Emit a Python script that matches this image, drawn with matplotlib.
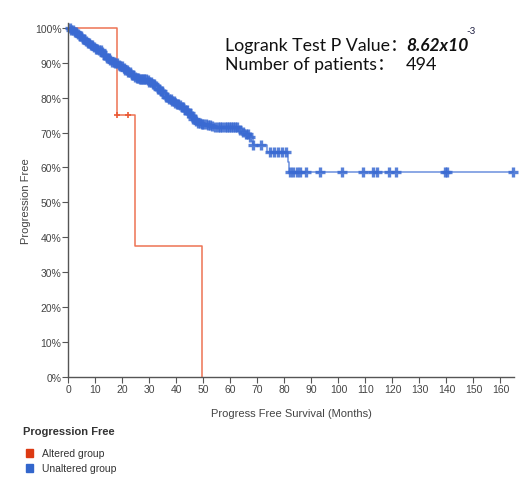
import matplotlib.pyplot as plt
import numpy as np

# Kaplan-Meier steps (months, % progression free)
altered_times = [0, 17.8, 24.8, 49.6]
altered_surv = [100, 75, 37.5, 0]
altered_censor = [17.8, 22.2]

unaltered_times = [0, 1, 2, 3, 4, 5, 6, 7, 8, 9, 10, 11, 12, 13, 14, 15, 16, 17,
                   18, 19, 20, 21, 22, 23, 24, 25, 26, 28, 29, 30, 31, 32, 33, 34,
                   35, 36, 37, 38, 39, 40, 41, 42, 43, 44, 45, 46, 47, 48, 49, 51,
                   53, 54, 63, 64, 65, 67, 68.4, 73.4, 81.2, 81.5]
unaltered_surv = [100, 99.4, 98.8, 98.2, 97.5, 96.8, 96.2, 95.6, 95.0, 94.5, 94.0,
                  93.5, 93.0, 92.2, 91.4, 90.7, 90.2, 89.8, 89.4, 89.0, 88.5, 87.8,
                  87.2, 86.6, 86.0, 85.6, 85.3, 85.2, 85.0, 84.6, 84.0, 83.4, 82.6,
                  81.8, 81.0, 80.3, 79.6, 79.0, 78.5, 78.2, 77.8, 77.2, 76.4, 75.6,
                  74.8, 74.0, 73.3, 72.8, 72.4, 72.2, 71.9, 71.5, 70.8, 70.2, 69.6,
                  68.7, 66.5, 64.3, 61.5, 58.7]
unaltered_end = 164.5
unaltered_censor = [0.4, 1.1, 1.7, 2.3, 2.9, 3.4, 4.1, 4.6, 5.2, 5.9, 6.4, 7.1, 7.7,
                    8.2, 8.8, 9.5, 10.1, 10.6, 11.3, 11.9, 12.5, 13.1, 13.6, 14.3,
                    14.9, 15.5, 16.0, 16.7, 17.3, 17.9, 18.6, 19.2, 19.7, 20.4, 21.0,
                    21.5, 22.2, 22.8, 23.4, 23.9, 24.6, 25.2, 25.8, 26.4, 27.0, 27.6,
                    28.1, 28.8, 29.4, 30.0, 30.5, 31.2, 31.8, 32.3, 33.0, 33.6, 34.2,
                    34.7, 35.4, 36.0, 36.5, 37.2, 37.8, 38.4, 38.9, 39.6, 40.2, 40.7,
                    41.4, 42.0, 42.6, 43.1, 43.8, 44.4, 44.9, 45.6, 46.2, 46.8, 47.3,
                    48.0, 48.6, 49.3, 50.0, 50.8, 51.6, 52.4, 53.2, 54.3, 55.4, 56.2,
                    57.0, 57.8, 58.6, 59.3, 60.1, 60.9, 61.7, 62.5, 63.5, 64.6, 65.6,
                    66.5, 67.3, 68.4, 71.2, 74.6, 76.2, 77.7, 79.0, 80.4,
                    82.0, 83.3, 84.5, 85.7, 87.8, 93.1, 101.2, 109.0, 112.7, 114.2,
                    118.8, 121.3, 139.4, 140.3, 164.5]

xticks = list(range(0, 161, 10))
yticks = list(range(0, 101, 10))

RED = '#ea5a35'
BLUE = '#3a6ad2'

plt.rcParams['font.family'] = ['Liberation Sans', 'DejaVu Sans']

fig = plt.figure(figsize=(5.22, 4.81), dpi=100)
ax = fig.add_axes([0.1312, 0.2141, 0.8534, 0.737])


def step_at(times, surv, t):
    idx = np.searchsorted(times, t, side='right') - 1
    return np.asarray(surv)[idx]


# altered group
ax.step(altered_times, altered_surv, where='post', color=RED, lw=1.1, alpha=0.85)
ax.plot(altered_censor, step_at(altered_times, altered_surv, altered_censor), '+',
        color=RED, ms=5, mew=1.2)

# unaltered group
ux = list(unaltered_times) + [unaltered_end]
uy = list(unaltered_surv) + [unaltered_surv[-1]]
ax.step(ux, uy, where='post', color=BLUE, lw=1.1, alpha=0.75)
ax.plot(unaltered_censor, step_at(unaltered_times, unaltered_surv, unaltered_censor), '+',
        color=BLUE, ms=7, mew=2.4, alpha=0.85, clip_on=False)

ax.set_xlim(0, 165)
ax.set_ylim(0, 101.5)
ax.set_xticks(xticks)
ax.set_yticks(yticks)
ax.set_yticklabels([f'{v}%' for v in yticks])
for side in ('top', 'right'):
    ax.spines[side].set_visible(False)
for side in ('left', 'bottom'):
    ax.spines[side].set_color('#555555')
    ax.spines[side].set_linewidth(1.0)
ax.tick_params(direction='out', length=4, width=0.8, color='#555555',
               labelsize=7.5, labelcolor='#444444', pad=1)

ax.set_xlabel('Progress Free Survival (Months)', fontsize=8, color='#444444', labelpad=10)
ax.set_ylabel('Progression Free', fontsize=8, color='#444444', labelpad=3)

# statistics annotation
stat_font = ['Lato', 'Noto Sans CJK SC', 'DejaVu Sans']
fig.text(225 / 522, 1 - 51 / 481, 'Logrank Test P Value：', fontsize=12.8,
         family=stat_font, va='baseline', ha='left', color='#111111')
fig.text(406 / 522, 1 - 51 / 481, '8.62x10', fontsize=12.5, family=stat_font,
         fontweight='bold', style='italic', va='baseline', ha='left', color='#111111')
fig.text(466 / 522, 1 - 31 / 481, '-3', fontsize=7, family=stat_font,
         va='center', ha='left', color='#222244')
fig.text(225 / 522, 1 - 70 / 481, 'Number of patients：', fontsize=12.8,
         family=stat_font, va='baseline', ha='left', color='#111111')
fig.text(406 / 522, 1 - 70 / 481, '494', fontsize=13, family=stat_font,
         va='baseline', ha='left', color='#111111')

# legend block
fig.text(23 / 522, 1 - 432 / 481, 'Progression Free', fontsize=8, fontweight='bold',
         color='#333333', va='center', ha='left')
for yy, col, lab in [(454, '#dc3912', 'Altered group'), (469, '#3366cc', 'Unaltered group')]:
    fig.patches.append(plt.Rectangle((26 / 522, 1 - (yy + 4) / 481), 7 / 522, 8 / 481,
                                     transform=fig.transFigure, color=col))
    fig.text(42 / 522, 1 - yy / 481, lab, fontsize=7.5, color='#333333',
             va='center', ha='left')

fig.savefig('out.png', dpi=100)
